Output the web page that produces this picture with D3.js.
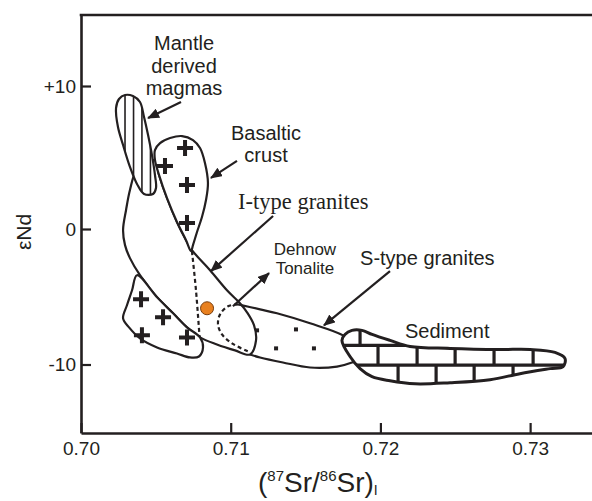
<!DOCTYPE html>
<html>
<head>
<meta charset="utf-8">
<script src="https://cdn.jsdelivr.net/npm/d3@7"></script>
<style>
  html, body { margin: 0; padding: 0; background: #fff; }
  svg { display: block; }
  text { font-family: "Liberation Sans", Arial, sans-serif; fill: #231f20; }
</style>
</head>
<body>
<div id="chart"></div>
<script>
// --- DATA ---
const xTicks = [0.70, 0.71, 0.72, 0.73];
const yTicks = [-10, 0, 10];

// field outlines, [87Sr/86Sr, eNd]
const mantleOutline = [
  [0.70234, 8.46], [0.70254, 9.09], [0.70294, 9.37], [0.70347, 9.30], [0.70394, 8.88],
  [0.70421, 7.83], [0.70448, 6.57], [0.70474, 5.17], [0.70494, 3.78], [0.70501, 2.87],
  [0.70481, 2.45], [0.70421, 2.45], [0.70374, 3.15], [0.70327, 4.34], [0.70281, 5.87],
  [0.70247, 7.13]
];
const mantleHatch = [0.70294, 0.70351, 0.70407, 0.70464];

const crustOutline = [
  [0.70494, 5.52], [0.70528, 6.01], [0.70595, 6.36], [0.70675, 6.50], [0.70748, 6.22],
  [0.70795, 5.66], [0.70828, 4.62], [0.70848, 3.22], [0.70835, 2.03], [0.70808, 0.84],
  [0.70775, -0.22], [0.70748, -1.19], [0.70735, -1.63], [0.70701, -0.81], [0.70641, 0.49],
  [0.70574, 2.17], [0.70521, 3.78], [0.70494, 4.83]
];
const crustPluses = [[0.70695, 5.66], [0.70561, 4.41], [0.70708, 3.08], [0.70708, 0.42]];

const lowerCrustOutline = [
  [0.70374, -3.41], [0.70508, -5.04], [0.70615, -6.22], [0.70708, -7.26], [0.70795, -8.00],
  [0.70815, -8.74], [0.70788, -9.41], [0.70728, -9.48], [0.70641, -9.19], [0.70508, -8.74],
  [0.70394, -8.07], [0.70321, -7.26], [0.70281, -6.59], [0.70307, -5.63], [0.70341, -4.52]
];
const lowerPluses = [[0.70401, -5.19], [0.70548, -6.52], [0.70407, -7.85], [0.70708, -8.00]];

const iTypeOutline = [
  [0.70367, 3.99], [0.70327, 2.73], [0.70301, 1.33], [0.70281, -0.07], [0.70294, -1.19],
  [0.70327, -2.15], [0.70394, -3.41], [0.70508, -5.04], [0.70615, -6.22], [0.70708, -7.26],
  [0.70795, -8.00], [0.70908, -8.52], [0.71029, -8.96], [0.71129, -9.26], [0.71169, -8.22],
  [0.71156, -7.11], [0.71109, -6.15], [0.71062, -5.48], [0.70975, -4.52], [0.70862, -3.04],
  [0.70741, -1.56], [0.70701, -0.81], [0.70641, 0.49], [0.70574, 2.17], [0.70521, 3.78],
  [0.70494, 4.83], [0.70448, 4.55]
];
const crustDivide = [[0.70741, -1.63], [0.70768, -4.52], [0.70795, -8.44]];

const sTypeOutline = [
  [0.71049, -5.56], [0.71196, -5.93], [0.71309, -6.22], [0.71530, -6.96], [0.71750, -7.85],
  [0.71830, -8.59], [0.71864, -9.56], [0.71810, -9.85], [0.71710, -10.15], [0.71530, -10.22],
  [0.71349, -9.85], [0.71196, -9.48], [0.71129, -9.26]
];
const sTypeInner = [
  [0.71049, -5.56], [0.70982, -5.70], [0.70929, -6.30], [0.70915, -7.04], [0.70942, -7.78],
  [0.71009, -8.44], [0.71116, -9.04]
];
const sTypeDots = [[0.71176, -7.48], [0.71436, -7.41], [0.71303, -8.81], [0.71556, -8.81]];

const sedimentOutline = [
  [0.71743, -8.22], [0.71763, -7.78], [0.71810, -7.48], [0.71877, -7.48], [0.71944, -7.78],
  [0.72064, -8.22], [0.72198, -8.67], [0.72465, -8.81], [0.72799, -8.89], [0.72999, -8.89],
  [0.73166, -9.11], [0.73233, -9.56], [0.73220, -10.15], [0.73133, -10.30], [0.72932, -10.67],
  [0.72732, -11.11], [0.72465, -11.33], [0.72231, -11.41], [0.72064, -11.19], [0.71944, -10.89],
  [0.71864, -10.30], [0.71797, -9.41]
];
const sedimentCourses = [-8.59, -10.04];
const sedimentJoints = [
  { top: -7.0, bottom: -8.59, xs: [0.71864] },
  { top: -8.59, bottom: -10.04, xs: [0.71984, 0.72245, 0.72499, 0.72759, 0.73020] },
  { top: -10.04, bottom: -12.0, xs: [0.72118, 0.72372, 0.72626, 0.72886] }
];

const dehnowTonalite = [0.70842, -5.85];

// arrows: tail -> tip
const arrows = [
  [[0.70668, 8.88], [0.70448, 7.76]],
  [[0.71042, 4.76], [0.70868, 3.57]],
  [[0.71283, 0.91], [0.70868, -3.11]],
  [[0.71015, -5.70], [0.71256, -3.26]],
  [[0.72064, -3.11], [0.71623, -7.11]]
];

const labels = [
  { text: 'Mantle', at: [0.70688, 12.52], anchor: 'middle', size: 20 },
  { text: 'derived', at: [0.70688, 10.91], anchor: 'middle', size: 20 },
  { text: 'magmas', at: [0.70688, 9.37], anchor: 'middle', size: 20 },
  { text: 'Basaltic', at: [0.71236, 6.22], anchor: 'middle', size: 20 },
  { text: 'crust', at: [0.71236, 4.69], anchor: 'middle', size: 20 },
  { text: 'I-type granites', at: [0.71049, 1.40], anchor: 'start', size: 22.5, serif: true },
  { text: 'Dehnow', at: [0.71496, -1.93], anchor: 'middle', size: 17 },
  { text: 'Tonalite', at: [0.71496, -3.33], anchor: 'middle', size: 17 },
  { text: 'S-type granites', at: [0.71864, -2.67], anchor: 'start', size: 20 },
  { text: 'Sediment', at: [0.72164, -8.07], anchor: 'start', size: 20 }
];

// --- CHART ---
const width = 592;
const height = 501;
const ink = '#231f20';

const svg = d3.select('#chart')
  .append('svg')
  .attr('width', width)
  .attr('height', height);

const x = d3.scaleLinear()
  .domain([0.70, 0.7342])
  .range([81, 593]);

const y = d3.scaleLinear()
  .domain([-15, -10, 0, 10, 15])
  .range([433, 364.5, 229, 86, 15]);

const defs = svg.append('defs');

defs.append('marker')
  .attr('id', 'head')
  .attr('viewBox', '0 -5 12 10')
  .attr('refX', 11)
  .attr('refY', 0)
  .attr('markerWidth', 12)
  .attr('markerHeight', 10)
  .attr('markerUnits', 'userSpaceOnUse')
  .attr('orient', 'auto')
  .append('path')
  .attr('d', 'M0,-5L12,0L0,5Z')
  .attr('fill', ink);

const closed = d3.line()
  .x(d => x(d[0]))
  .y(d => y(d[1]))
  .curve(d3.curveCatmullRomClosed.alpha(0.5));

const open = d3.line()
  .x(d => x(d[0]))
  .y(d => y(d[1]))
  .curve(d3.curveCatmullRom.alpha(0.5));

const plus = d => {
  const cx = x(d[0]), cy = y(d[1]);
  return `M${cx - 8},${cy}h16M${cx},${cy - 8}v16`;
};

const g = svg.append('g');

// --- I-TYPE / S-TYPE FIELDS ---
g.append('path')
  .attr('d', closed(iTypeOutline))
  .attr('fill', '#fff')
  .attr('stroke', ink)
  .attr('stroke-width', 2.2);

g.append('path')
  .attr('d', open(sTypeOutline))
  .attr('fill', 'none')
  .attr('stroke', ink)
  .attr('stroke-width', 2.2);

g.append('path')
  .attr('d', open(sTypeInner))
  .attr('fill', 'none')
  .attr('stroke', ink)
  .attr('stroke-width', 2.2)
  .attr('stroke-dasharray', '4,3');

g.append('path')
  .attr('d', open(crustDivide))
  .attr('fill', 'none')
  .attr('stroke', ink)
  .attr('stroke-width', 2.2)
  .attr('stroke-dasharray', '4,3');

g.selectAll('rect.dot')
  .data(sTypeDots)
  .join('rect')
  .attr('class', 'dot')
  .attr('x', d => x(d[0]) - 2)
  .attr('y', d => y(d[1]) - 2)
  .attr('width', 4)
  .attr('height', 4)
  .attr('fill', ink);

// --- LOWER CRUST ---
g.append('path')
  .attr('d', closed(lowerCrustOutline))
  .attr('fill', '#fff')
  .attr('stroke', ink)
  .attr('stroke-width', 2.2);

// --- BASALTIC CRUST ---
g.append('path')
  .attr('d', closed(crustOutline))
  .attr('fill', '#fff')
  .attr('stroke', ink)
  .attr('stroke-width', 2.2);

g.selectAll('path.plus')
  .data(crustPluses.concat(lowerPluses))
  .join('path')
  .attr('class', 'plus')
  .attr('d', plus)
  .attr('stroke', ink)
  .attr('stroke-width', 4);

// --- MANTLE ---
defs.append('clipPath')
  .attr('id', 'mantle-clip')
  .append('path')
  .attr('d', closed(mantleOutline));

g.append('path')
  .attr('d', closed(mantleOutline))
  .attr('fill', '#fff');

g.append('g')
  .attr('clip-path', 'url(#mantle-clip)')
  .selectAll('line')
  .data(mantleHatch)
  .join('line')
  .attr('x1', d => x(d))
  .attr('x2', d => x(d))
  .attr('y1', y(12))
  .attr('y2', y(0))
  .attr('stroke', ink)
  .attr('stroke-width', 1.6);

g.append('path')
  .attr('d', closed(mantleOutline))
  .attr('fill', 'none')
  .attr('stroke', ink)
  .attr('stroke-width', 2.2);

// --- SEDIMENT ---
defs.append('clipPath')
  .attr('id', 'sed-clip')
  .append('path')
  .attr('d', closed(sedimentOutline));

g.append('path')
  .attr('d', closed(sedimentOutline))
  .attr('fill', '#fff');

const bricks = g.append('g').attr('clip-path', 'url(#sed-clip)');

bricks.selectAll('line.course')
  .data(sedimentCourses)
  .join('line')
  .attr('class', 'course')
  .attr('x1', x(0.716))
  .attr('x2', x(0.734))
  .attr('y1', d => y(d))
  .attr('y2', d => y(d))
  .attr('stroke', ink)
  .attr('stroke-width', 3.2);

bricks.selectAll('line.joint')
  .data(sedimentJoints.flatMap(r => r.xs.map(v => ({ v, top: r.top, bottom: r.bottom }))))
  .join('line')
  .attr('class', 'joint')
  .attr('x1', d => x(d.v))
  .attr('x2', d => x(d.v))
  .attr('y1', d => y(d.top))
  .attr('y2', d => y(d.bottom))
  .attr('stroke', ink)
  .attr('stroke-width', 3.2);

g.append('path')
  .attr('d', closed(sedimentOutline))
  .attr('fill', 'none')
  .attr('stroke', ink)
  .attr('stroke-width', 3);

// --- DEHNOW TONALITE ---
g.append('circle')
  .attr('cx', x(dehnowTonalite[0]))
  .attr('cy', y(dehnowTonalite[1]))
  .attr('r', 6.5)
  .attr('fill', '#e8801f')
  .attr('stroke', '#7a3d0c')
  .attr('stroke-width', 1);

// --- ARROWS ---
g.selectAll('line.arrow')
  .data(arrows)
  .join('line')
  .attr('class', 'arrow')
  .attr('x1', d => x(d[0][0]))
  .attr('y1', d => y(d[0][1]))
  .attr('x2', d => x(d[1][0]))
  .attr('y2', d => y(d[1][1]))
  .attr('stroke', ink)
  .attr('stroke-width', 2.2)
  .attr('marker-end', 'url(#head)');

// --- LABELS ---
g.selectAll('text.label')
  .data(labels)
  .join('text')
  .attr('class', 'label')
  .attr('x', d => x(d.at[0]))
  .attr('y', d => y(d.at[1]))
  .attr('text-anchor', d => d.anchor)
  .style('font-size', d => d.size + 'px')
  .style('font-family', d => d.serif ? '"Liberation Serif", "Times New Roman", serif' : null)
  .text(d => d.text);

// --- AXES ---
const xAxis = svg.append('g')
  .attr('transform', `translate(0,${y(-15)})`)
  .call(d3.axisBottom(x)
    .tickValues(xTicks)
    .tickSize(-10)
    .tickSizeOuter(0)
    .tickPadding(9)
    .tickFormat(d3.format('.2f')));

const yAxis = svg.append('g')
  .attr('transform', `translate(${x(0.70)},0)`)
  .call(d3.axisLeft(y)
    .tickValues(yTicks)
    .tickSize(-10)
    .tickSizeOuter(0)
    .tickPadding(5)
    .tickFormat(d => (d > 0 ? '+' : '') + d));

[xAxis, yAxis].forEach(a => {
  a.selectAll('path.domain').attr('stroke', ink).attr('stroke-width', 2.6);
  a.selectAll('.tick line').attr('stroke', ink).attr('stroke-width', 2.2);
  a.selectAll('.tick text')
    .attr('fill', ink)
    .style('font-size', '19px')
    .style('font-family', '"Liberation Sans", Arial, sans-serif');
});

svg.append('line')
  .attr('x1', x(0.70) - 1.3)
  .attr('x2', x(0.7342))
  .attr('y1', y(15))
  .attr('y2', y(15))
  .attr('stroke', ink)
  .attr('stroke-width', 2.6);

svg.append('text')
  .attr('transform', `translate(31,${y(0) + 3}) rotate(-90)`)
  .attr('text-anchor', 'middle')
  .style('font-size', '21px')
  .text('εNd');

const xLabel = svg.append('text')
  .attr('x', 258)
  .attr('y', 492)
  .style('font-size', '28px');
xLabel.append('tspan').text('(');
xLabel.append('tspan').attr('dy', -11).style('font-size', '15px').text('87');
xLabel.append('tspan').attr('dy', 11).text('Sr/');
xLabel.append('tspan').attr('dy', -11).style('font-size', '15px').text('86');
xLabel.append('tspan').attr('dy', 11).text('Sr)');
xLabel.append('tspan').attr('dy', 3).style('font-size', '14px').text('I');
</script>
</body>
</html>
